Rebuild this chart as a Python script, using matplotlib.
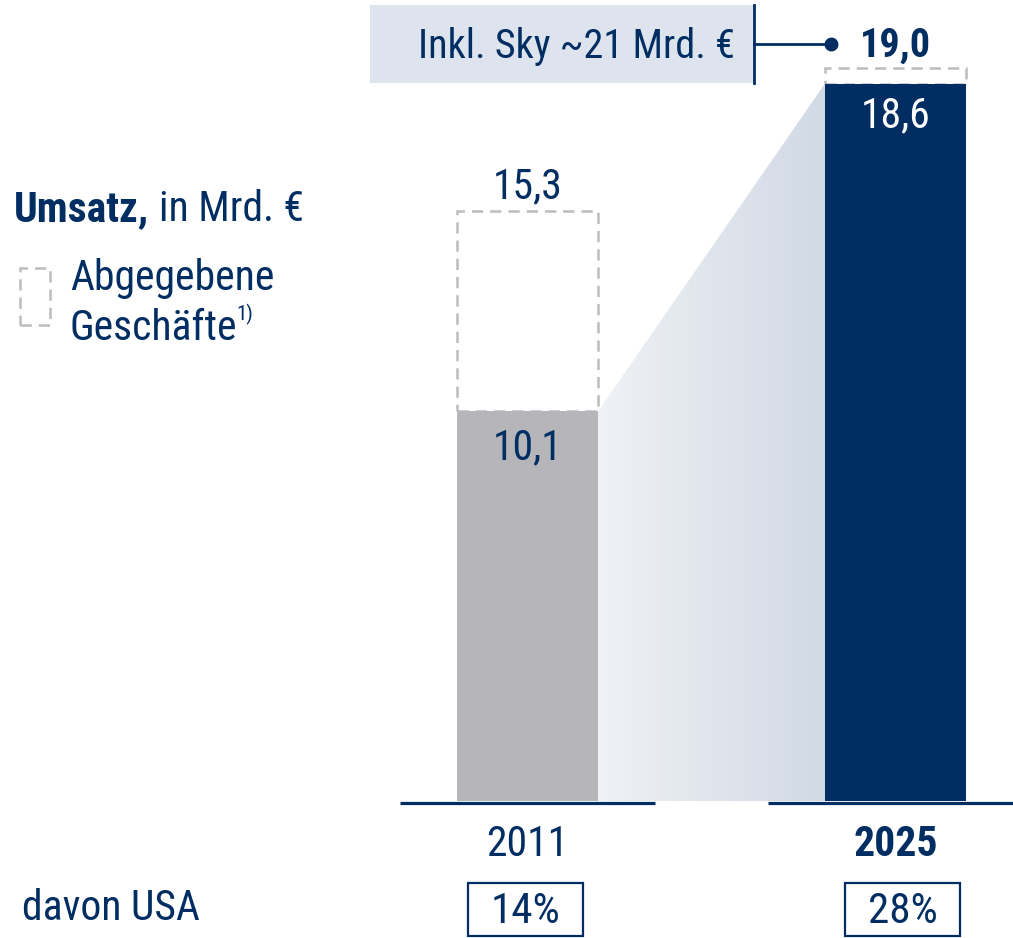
import matplotlib
matplotlib.use('Agg')
import matplotlib.pyplot as plt
import numpy as np
from matplotlib import font_manager
from matplotlib.patches import Rectangle, Polygon
from matplotlib.colors import LinearSegmentedColormap
from matplotlib.transforms import blended_transform_factory

# Daten
jahre = ['2011', '2025']
umsatz = [10.1, 18.6]
umsatz_inkl = [15.3, 19.0]
usa_anteil = ['14%', '28%']
sky_text = 'Inkl. Sky ~21 Mrd. €'

NAVY = '#002d62'
GRAU = '#b5b5ba'
DASH = '#bcbcbe'
HELL = '#dde4ee'

# Schrift: schmale Schrift wenn vorhanden
namen = {f.name for f in font_manager.fontManager.ttflist}
schrift = 'DejaVu Sans'
for kandidat in ['Liberation Sans Narrow', 'Roboto Condensed', 'DejaVu Sans Condensed', 'Roboto']:
    if kandidat in namen:
        schrift = kandidat
        break
plt.rcParams['font.family'] = [schrift, 'DejaVu Sans']

W, H = 1013, 938
fig = plt.figure(figsize=(W / 100, H / 100), dpi=100)
ax = fig.add_axes([0, 0, 1, 1])
ax.axis('off')

# x: Balkenmitte 0 -> 527.5 px, 1 -> 895.5 px ; y: 38.57 px je Mrd.
px_x = 368.0
px_y = 38.57
ax.set_xlim(-527.5 / px_x, (W - 527.5) / px_x)
ax.set_ylim(-137 / px_y, (H - 137) / px_y)


def fp(x, y):
    # Pixel (von oben) -> Figurkoordinaten
    return x / W, 1 - y / H


xpos = np.arange(len(jahre))
breite = 141 / px_x

# Verlauf zwischen den Balken
x_l = xpos[0] + breite / 2
x_r = xpos[1] - breite / 2
poly = Polygon([(x_l, umsatz[0]), (x_r, umsatz[1]), (x_r, 0), (x_l, 0)],
               closed=True, facecolor='none', edgecolor='none')
ax.add_patch(poly)
verlauf = LinearSegmentedColormap.from_list('v', ['#eff2f6', '#d1d9e4'])
grad = np.linspace(0, 1, 256).reshape(1, -1)
img = ax.imshow(grad, cmap=verlauf, extent=[x_l, x_r, 0, umsatz[1]],
                aspect='auto', origin='lower', zorder=1)
img.set_clip_path(poly)

# abgegebene Geschäfte (gestrichelt)
for i in range(len(jahre)):
    r = Rectangle((xpos[i] - breite / 2, umsatz[i]), breite, umsatz_inkl[i] - umsatz[i],
                  fill=False, edgecolor=DASH, linewidth=1.8, linestyle=(0, (4.5, 2.8)), zorder=2)
    ax.add_patch(r)

ax.bar(xpos, umsatz, width=breite, color=[GRAU, NAVY], zorder=3)

# Grundlinien
for i in range(len(jahre)):
    ax.plot([xpos[i] - 0.3465, xpos[i] + 0.3465], [-0.05, -0.05], color=NAVY, lw=2.3,
            solid_capstyle='butt', zorder=4)

# Werte
ax.text(xpos[0], umsatz_inkl[0] + 0.08, f'{umsatz_inkl[0]:.1f}'.replace('.', ','),
        ha='center', va='bottom', fontsize=30, color=NAVY, zorder=5)
ax.text(xpos[0], umsatz[0] - 0.4, f'{umsatz[0]:.1f}'.replace('.', ','),
        ha='center', va='top', fontsize=30, color=NAVY, zorder=5)
ax.text(xpos[1], umsatz[1] - 0.3, f'{umsatz[1]:.1f}'.replace('.', ','),
        ha='center', va='top', fontsize=30, color='white', zorder=5)

# Sky-Kasten oben
fig.add_artist(Rectangle(fp(370, 83), (754 - 370) / W, 78 / H, transform=fig.transFigure,
                         facecolor=HELL, edgecolor='none', zorder=1))
fig.add_artist(plt.Line2D([754 / W, 754 / W], [1 - 5 / H, 1 - 83 / H], color=NAVY, lw=2,
                          transform=fig.transFigure))
fig.add_artist(plt.Line2D([754 / W, 831 / W], [1 - 44 / H, 1 - 44 / H], color=NAVY, lw=2,
                          transform=fig.transFigure))
fig.add_artist(plt.Line2D([831 / W], [1 - 44 / H], marker='o', markersize=9, color=NAVY,
                          transform=fig.transFigure))
fig.text(*fp(735, 46), sky_text, ha='right', va='center', fontsize=29, color=NAVY)
tb = blended_transform_factory(ax.transData, fig.transFigure)
ax.text(xpos[1], 1 - 46 / H, f'{umsatz_inkl[1]:.1f}'.replace('.', ','), transform=tb,
        ha='center', va='center', fontsize=29, fontweight='bold', color=NAVY)

# Titel und Legende
fig.canvas.draw()
rend = fig.canvas.get_renderer()
t1 = fig.text(*fp(14, 221), 'Umsatz,', ha='left', va='baseline', fontsize=30,
              fontweight='bold', color=NAVY)
bb = t1.get_window_extent(rend)
fig.text(bb.x1 / W + 10 / W, 1 - 221 / H, 'in Mrd. €', ha='left', va='baseline',
         fontsize=30, color=NAVY)

fig.add_artist(Rectangle(fp(20, 325), 30 / W, 57 / H, transform=fig.transFigure, fill=False,
                         edgecolor=DASH, linewidth=1.8, linestyle=(0, (4.5, 2.8))))
fig.text(*fp(70, 290), 'Abgegebene', ha='left', va='baseline', fontsize=30, color=NAVY)
t2 = fig.text(*fp(70, 340), 'Geschäfte', ha='left', va='baseline', fontsize=30, color=NAVY)
bb = t2.get_window_extent(rend)
fig.text(bb.x1 / W - 1 / W, 1 - 320 / H, '1)', ha='left', va='baseline', fontsize=15,
         color=NAVY)

# Jahre
for i, j in enumerate(jahre):
    ax.text(xpos[i], 1 - 844 / H, j, transform=tb, ha='center', va='center', fontsize=30,
            color=NAVY, fontweight='bold' if i == 1 else 'normal')

# davon USA
fig.text(*fp(22, 908), 'davon USA', ha='left', va='center', fontsize=30, color=NAVY)
for i, p in enumerate(usa_anteil):
    cx = xpos[i] + (-2 if i == 0 else 7) / px_x
    box = Rectangle((cx - 57.5 / px_x, 1 - 936 / H), 115 / px_x, 53 / H, transform=tb,
                    fill=False, edgecolor=NAVY, linewidth=1.6)
    ax.add_artist(box)
    box.set_clip_on(False)
    ax.text(cx, 1 - 911 / H, p, transform=tb, ha='center', va='center', fontsize=31,
            color=NAVY)

fig.savefig('out.png', dpi=100)
